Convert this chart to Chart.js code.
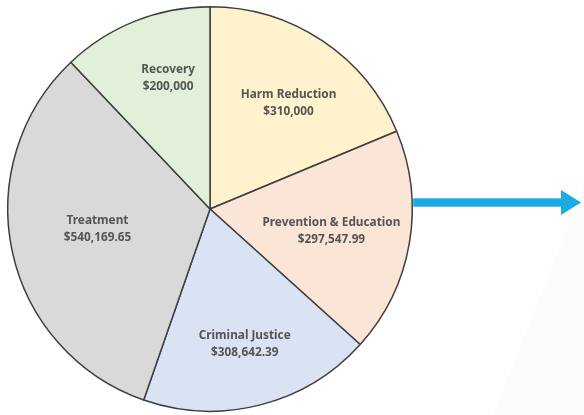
<!DOCTYPE html>
<html>
<head>
<meta charset="utf-8">
<title>Funding allocation</title>
<script src="https://cdn.jsdelivr.net/npm/chart.js@4"></script>
<style>
  html, body { margin: 0; padding: 0; background: #fff; }
  #myChart { display: block; }
</style>
</head>
<body>
<canvas id="myChart" width="584" height="415"></canvas>
<script>
// categories and amounts, clockwise from 12 o'clock
const labels = ["Harm Reduction", "Prevention & Education", "Criminal Justice", "Treatment", "Recovery"];
const amounts = [310000, 297547.99, 308642.39, 540169.65, 200000];
const amountText = ["$310,000", "$297,547.99", "$308,642.39", "$540,169.65", "$200,000"];
const colorHex = ["#fff2cc", "#fbe5d6", "#dae3f3", "#d9d9d9", "#e2f0d9"];

// label placement inside each slice: fraction of radius, angle nudge (deg)
const labelPos = [
  { f: 0.65, da: 3 },
  { f: 0.61, da: 0.5 },
  { f: 0.69, da: 0 },
  { f: 0.565, da: 2 },
  { f: 0.68, da: 4 },
];

const sliceLabels = {
  id: "sliceLabels",
  afterDatasetsDraw(chart) {
    const ctx = chart.ctx;
    const arcs = chart.getDatasetMeta(0).data;
    ctx.save();
    ctx.font = "bold 11.8px 'Noto Sans'";
    ctx.fillStyle = "#555555";
    ctx.textAlign = "center";
    ctx.textBaseline = "middle";
    arcs.forEach((arc, i) => {
      const p = labelPos[i];
      const mid = (arc.startAngle + arc.endAngle) / 2 + (p.da * Math.PI) / 180;
      const r = arc.outerRadius * p.f;
      const x = arc.x + Math.cos(mid) * r;
      const y = arc.y + Math.sin(mid) * r;
      ctx.fillText(labels[i], x, y - 8.5);
      ctx.fillText(amountText[i], x, y + 8.5);
    });
    ctx.restore();
  },
};

// faint backdrop shape and the blue pointer arrow on the right
const arrow = {
  id: "arrow",
  beforeDraw(chart) {
    const ctx = chart.ctx;
    ctx.save();
    ctx.fillStyle = "#fcfcfc";
    ctx.beginPath();
    ctx.moveTo(584, 185);
    ctx.lineTo(584, 415);
    ctx.lineTo(493, 415);
    ctx.closePath();
    ctx.fill();
    ctx.restore();
  },
  afterDraw(chart) {
    const ctx = chart.ctx;
    const arc = chart.getDatasetMeta(0).data[0];
    const x0 = arc.x + arc.outerRadius + 1;
    const y = 202.5;
    ctx.save();
    ctx.fillStyle = "#1cace3";
    ctx.fillRect(x0, y - 4.2, 562 - x0, 8.4);
    ctx.beginPath();
    ctx.moveTo(561, y - 12.5);
    ctx.lineTo(581, y);
    ctx.lineTo(561, y + 12.5);
    ctx.closePath();
    ctx.fill();
    ctx.restore();
  },
};

let ctx = document.getElementById("myChart").getContext("2d");
let myChart = new Chart(ctx, {
  type: "pie",
  data: {
    labels: labels,
    datasets: [
      {
        data: amounts,
        backgroundColor: colorHex,
        borderColor: "#3f3f3f",
        borderWidth: 1.5,
      },
    ],
  },
  options: {
    responsive: false,
    animation: false,
    layout: { padding: { left: 7, top: 6, right: 171, bottom: 3 } },
    plugins: {
      legend: { display: false },
      tooltip: { enabled: false },
    },
  },
  plugins: [arrow, sliceLabels],
});
</script>
</body>
</html>
